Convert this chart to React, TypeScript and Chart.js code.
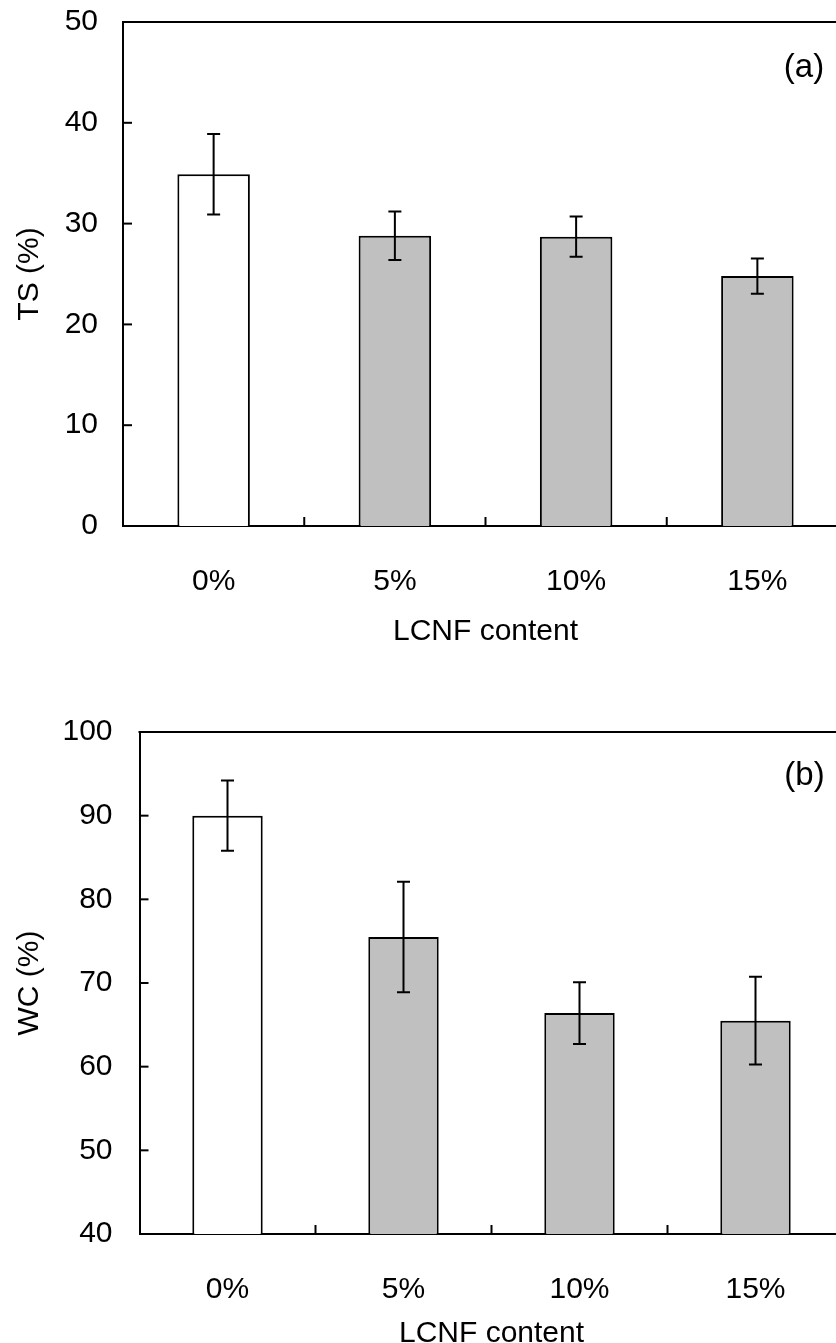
import React, { useEffect, useRef } from "react";
import { Chart, registerables } from "chart.js";

Chart.register(...registerables);

// ---- data ----
const categories = ["0%", "5%", "10%", "15%"];
const tsValues = [34.9, 28.8, 28.7, 24.8];
const tsErrors = [4.0, 2.4, 2.0, 1.75];
const wcValues = [90.0, 75.5, 66.4, 65.5];
const wcErrors = [4.2, 6.6, 3.7, 5.25];
const barColors = ["#FFFFFF", "#C0C0C0", "#C0C0C0", "#C0C0C0"];
const xTitle = "LCNF content";
const tsTitle = "TS (%)";
const wcTitle = "WC (%)";
const tsRange = [0, 50, 10];
const wcRange = [40, 100, 10];

const FONT = '"Liberation Sans", Arial, sans-serif';

type PanelCfg = {
  values: number[];
  errors: number[];
  yTitle: string;
  range: number[];
  tag: string;
  top: number;
  canvasW: number;
  canvasH: number;
  areaLeft: number;
  areaTop: number;
  areaBottom: number;
  areaRight: number;
  yPad: number;
  xPad: number;
  xTitlePad: number;
  tagDx: number;
  tagDy: number;
};

const decoPlugin = {
  id: "deco",
  afterDatasetsDraw(chart: any, _args: any, opts: any) {
    const { ctx, chartArea, scales } = chart;
    const x = scales.x;
    const y = scales.y;
    const meta = chart.getDatasetMeta(0);
    const ds = chart.data.datasets[0];
    const errs: number[] = opts.errors || [];
    ctx.save();
    ctx.strokeStyle = "#000";
    ctx.lineWidth = 2;
    meta.data.forEach((el: any, i: number) => {
      const v = ds.data[i] as number;
      const e = errs[i];
      const px = el.x;
      const hi = y.getPixelForValue(v + e);
      const lo = y.getPixelForValue(v - e);
      ctx.beginPath();
      ctx.moveTo(px, hi);
      ctx.lineTo(px, lo);
      ctx.moveTo(px - 6.5, hi);
      ctx.lineTo(px + 6.5, hi);
      ctx.moveTo(px - 6.5, lo);
      ctx.lineTo(px + 6.5, lo);
      ctx.stroke();
    });
    // top border
    ctx.beginPath();
    ctx.moveTo(chartArea.left - 1, chartArea.top);
    ctx.lineTo(chartArea.right, chartArea.top);
    ctx.stroke();
    // inward y ticks
    y.ticks.forEach((t: any) => {
      const py = y.getPixelForValue(t.value);
      ctx.beginPath();
      ctx.moveTo(chartArea.left, py);
      ctx.lineTo(chartArea.left + 9, py);
      ctx.stroke();
    });
    // inward x ticks at category boundaries
    const n = chart.data.labels.length;
    for (let i = 1; i <= n; i++) {
      const a = x.getPixelForValue(i - 1);
      const b = i < n ? x.getPixelForValue(i) : a + (a - x.getPixelForValue(i - 2));
      const bx = (a + b) / 2;
      ctx.beginPath();
      ctx.moveTo(bx, chartArea.bottom);
      ctx.lineTo(bx, chartArea.bottom - 9);
      ctx.stroke();
    }
    // panel tag
    ctx.fillStyle = "#000";
    ctx.font = `33px ${FONT}`;
    ctx.textAlign = "center";
    ctx.textBaseline = "middle";
    ctx.fillText(opts.tag, chartArea.right + opts.tagDx, chartArea.top + opts.tagDy);
    ctx.restore();
  },
};

function Panel({ cfg }: { cfg: PanelCfg }) {
  const ref = useRef<HTMLCanvasElement | null>(null);
  useEffect(() => {
    if (!ref.current) return;
    const chart = new Chart(ref.current, {
      type: "bar",
      data: {
        labels: categories,
        datasets: [
          {
            data: cfg.values,
            backgroundColor: barColors,
            borderColor: "#000",
            borderWidth: 2,
            base: cfg.range[0],
            barPercentage: 0.4,
            categoryPercentage: 1,
          } as any,
        ],
      },
      options: {
        responsive: false,
        animation: false,
        devicePixelRatio: 1,
        layout: {
          padding: {
            left: 0,
            top: cfg.areaTop,
            right: cfg.canvasW - cfg.areaRight,
            bottom: 0,
          },
        },
        plugins: {
          legend: { display: false },
          tooltip: { enabled: false },
          deco: { errors: cfg.errors, tag: cfg.tag, tagDx: cfg.tagDx, tagDy: cfg.tagDy },
        } as any,
        scales: {
          x: {
            grid: { display: false },
            border: { display: true, color: "#000", width: 2 },
            ticks: { color: "#000", padding: cfg.xPad, font: { size: 30, family: FONT } },
            title: {
              display: true,
              text: xTitle,
              color: "#000",
              font: { size: 30, family: FONT },
              padding: { top: 0, bottom: cfg.xTitlePad },
            },
            afterFit: (s: any) => {
              s.height = cfg.canvasH - cfg.areaBottom;
              s.paddingLeft = 0;
              s.paddingRight = 0;
            },
          },
          y: {
            min: cfg.range[0],
            max: cfg.range[1],
            grid: { display: false },
            border: { display: true, color: "#000", width: 2 },
            ticks: {
              stepSize: cfg.range[2],
              color: "#000",
              padding: cfg.yPad,
              font: { size: 30, family: FONT },
            },
            title: {
              display: true,
              text: cfg.yTitle,
              color: "#000",
              font: { size: 30, family: FONT },
              padding: { top: 12, bottom: 0 },
            },
            afterFit: (s: any) => {
              s.width = cfg.areaLeft;
              s.paddingTop = 0;
              s.paddingBottom = 0;
            },
          },
        },
      },
      plugins: [decoPlugin as any],
    });
    return () => chart.destroy();
  }, [cfg]);
  return (
    <canvas
      ref={ref}
      width={cfg.canvasW}
      height={cfg.canvasH}
      style={{ position: "absolute", left: 0, top: cfg.top, width: cfg.canvasW, height: cfg.canvasH }}
    />
  );
}

const panelA: PanelCfg = {
  values: tsValues,
  errors: tsErrors,
  yTitle: tsTitle,
  range: tsRange,
  tag: "(a)",
  top: 0,
  canvasW: 880,
  canvasH: 680,
  areaLeft: 123,
  areaTop: 22,
  areaBottom: 526,
  areaRight: 848,
  yPad: 17,
  xPad: 30,
  xTitlePad: 30,
  tagDx: -44,
  tagDy: 46,
};

const panelB: PanelCfg = {
  values: wcValues,
  errors: wcErrors,
  yTitle: wcTitle,
  range: wcRange,
  tag: "(b)",
  top: 680,
  canvasW: 880,
  canvasH: 680,
  areaLeft: 139.5,
  areaTop: 52,
  areaBottom: 554,
  areaRight: 843.5,
  yPad: 19,
  xPad: 30,
  xTitlePad: 8,
  tagDx: -39,
  tagDy: 44,
};

export default function App() {
  useEffect(() => {
    document.body.style.margin = "0";
  }, []);
  return (
    <div style={{ position: "relative", width: 836, height: 1343, overflow: "hidden", background: "#fff" }}>
      <Panel cfg={panelA} />
      <Panel cfg={panelB} />
    </div>
  );
}
